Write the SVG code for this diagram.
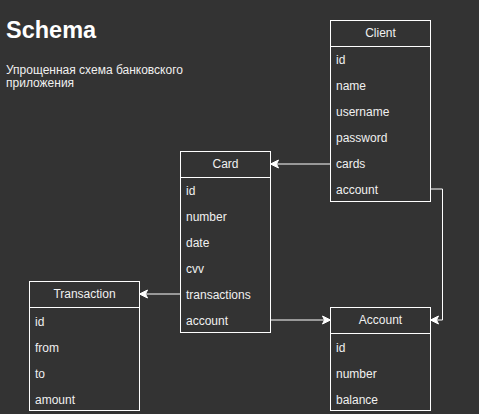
<svg xmlns="http://www.w3.org/2000/svg" width="479" height="414" viewBox="0 0 479 414">
  <defs>
    <style>
      .box { fill: #333333; stroke: #ffffff; stroke-width: 1; }
      .sep { stroke: #ffffff; stroke-width: 1; }
      .t { font-family: "Liberation Sans", Arial, sans-serif; font-size: 12px; fill: #f0f0f0; }
      .h { text-anchor: middle; }
      .edge { fill: none; stroke: #ffffff; stroke-width: 1; marker-end: url(#arrow); }
    </style>
    <marker id="arrow" viewBox="0 0 10 10" refX="9" refY="5" markerWidth="10" markerHeight="10" markerUnits="userSpaceOnUse" orient="auto">
      <path d="M9,5 L1,1 L3,5 L1,9 Z" fill="#ffffff" stroke="#ffffff" stroke-width="1"/>
    </marker>
  </defs>

  <rect width="479" height="414" fill="#333333"/>

  <text x="6" y="38" font-family="Liberation Sans, Arial, sans-serif" font-size="23.5" font-weight="bold" fill="#ffffff">Schema</text>
  <text class="t" x="6" y="74">Упрощенная схема банковского</text>
  <text class="t" x="6" y="87">приложения</text>

  <g id="connectors">
    <path class="edge" d="M330.5,164 L270.5,164"/>
    <path class="edge" d="M430.5,189 L442.5,189 L442.5,320 L430.5,320"/>
    <path class="edge" d="M180.5,294 L139.5,294"/>
    <path class="edge" d="M270.5,320 L330.5,320"/>
  </g>

  <g id="client">
    <rect class="box" x="330.5" y="20.5" width="100" height="181"/>
    <line class="sep" x1="330.5" y1="46.5" x2="430.5" y2="46.5"/>
    <text class="t h" x="380.5" y="37">Client</text>
    <text class="t" x="336" y="64">id</text>
    <text class="t" x="336" y="90">name</text>
    <text class="t" x="336" y="116">username</text>
    <text class="t" x="336" y="142">password</text>
    <text class="t" x="336" y="168">cards</text>
    <text class="t" x="336" y="194">account</text>
  </g>

  <g id="card">
    <rect class="box" x="180.5" y="151.5" width="90" height="181"/>
    <line class="sep" x1="180.5" y1="177.5" x2="270.5" y2="177.5"/>
    <text class="t h" x="225.5" y="168">Card</text>
    <text class="t" x="186" y="195">id</text>
    <text class="t" x="186" y="221">number</text>
    <text class="t" x="186" y="247">date</text>
    <text class="t" x="186" y="273">cvv</text>
    <text class="t" x="186" y="299">transactions</text>
    <text class="t" x="186" y="325">account</text>
  </g>

  <g id="transaction">
    <rect class="box" x="29.5" y="281.5" width="110" height="129"/>
    <line class="sep" x1="29.5" y1="307.5" x2="139.5" y2="307.5"/>
    <text class="t h" x="84.5" y="298">Transaction</text>
    <text class="t" x="35" y="326">id</text>
    <text class="t" x="35" y="352">from</text>
    <text class="t" x="35" y="378">to</text>
    <text class="t" x="35" y="404">amount</text>
  </g>

  <g id="account">
    <rect class="box" x="330.5" y="307.5" width="100" height="103"/>
    <line class="sep" x1="330.5" y1="333.5" x2="430.5" y2="333.5"/>
    <text class="t h" x="380.5" y="324">Account</text>
    <text class="t" x="336" y="352">id</text>
    <text class="t" x="336" y="378">number</text>
    <text class="t" x="336" y="404">balance</text>
  </g>
</svg>
